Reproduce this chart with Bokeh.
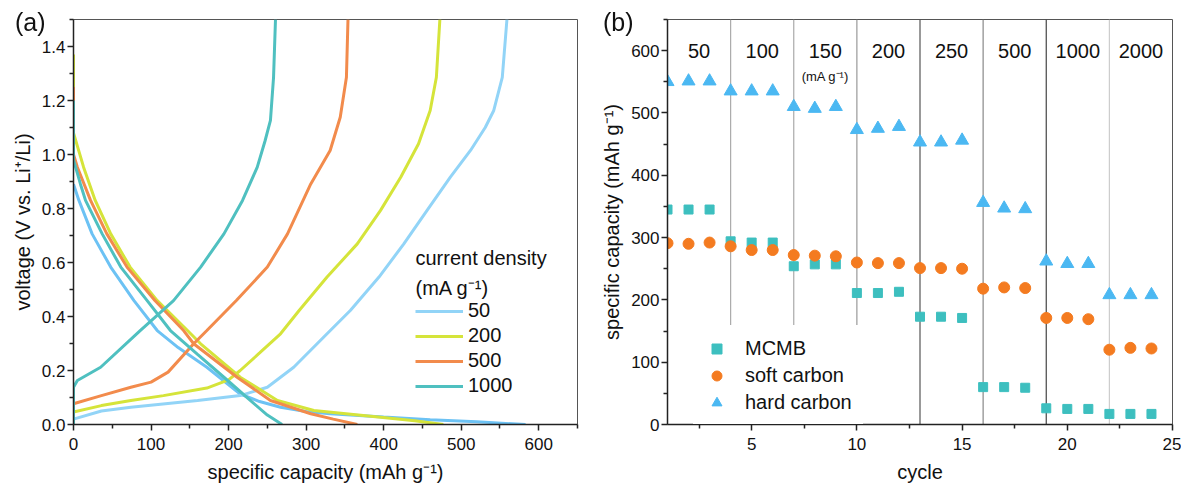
from bokeh.plotting import figure
from bokeh.layouts import row
from bokeh.models import (FixedTicker, PrintfTickFormatter, Legend, LegendItem,
                          Label, Range1d, Span, Div)
from bokeh.core.properties import value
from bokeh.embed import file_html
from bokeh.resources import INLINE

FONT = "Liberation Sans"

# ---------------- panel (a) data: voltage profiles ----------------
densities = ["50", "200", "500", "1000"]
colors_a = ["#92d4f7", "#d5e43a", "#f28b4c", "#4fc0c0"]
colors_a_dis = ["#6cc2f4", "#d5e43a", "#f28b4c", "#4fc0c0"]

dis_cap_50 = [0, 7, 24, 48, 78, 108, 135, 172, 215, 240, 267, 300, 331, 400, 460, 520, 583]
dis_v_50 = [0.89, 0.83, 0.706, 0.583, 0.459, 0.348, 0.285, 0.212, 0.113, 0.085, 0.064, 0.048, 0.04, 0.028, 0.018, 0.01, 0.0]
chg_cap_50 = [0, 0, 36, 74, 160, 215, 250, 284, 327, 357, 394, 426, 456, 486, 512, 531, 542, 553, 559]
chg_v_50 = [0.0, 0.02, 0.05, 0.064, 0.089, 0.107, 0.138, 0.212, 0.336, 0.422, 0.546, 0.669, 0.793, 0.916, 1.015, 1.10, 1.163, 1.286, 1.5]

dis_cap_200 = [0, 0, 13, 28, 48, 73, 108, 147, 164, 215, 263, 310, 396, 440, 477]
dis_v_200 = [1.37, 1.08, 0.953, 0.83, 0.706, 0.583, 0.459, 0.348, 0.299, 0.175, 0.089, 0.052, 0.027, 0.014, 0.0]
chg_cap_200 = [0, 0, 36, 74, 116, 172, 200, 215, 240, 267, 291, 327, 366, 396, 422, 445, 460, 468, 472.5]
chg_v_200 = [0.0, 0.046, 0.07, 0.089, 0.107, 0.135, 0.165, 0.2, 0.265, 0.336, 0.422, 0.546, 0.669, 0.793, 0.916, 1.04, 1.163, 1.286, 1.5]

dis_cap_500 = [0, 0, 5, 22, 43, 69, 105, 142, 155, 211, 254, 306, 335, 366]
dis_v_500 = [1.25, 1.0, 0.953, 0.83, 0.706, 0.583, 0.459, 0.348, 0.299, 0.175, 0.089, 0.04, 0.02, 0.0]
chg_cap_500 = [0, 0, 36, 74, 100, 122, 155, 172, 210, 250, 276, 306, 331, 344, 352, 354]
chg_v_500 = [0.0, 0.077, 0.107, 0.138, 0.157, 0.194, 0.299, 0.348, 0.459, 0.583, 0.706, 0.891, 1.015, 1.138, 1.286, 1.5]

dis_cap_1000 = [0, 0, 9, 15.5, 37, 61, 95, 125, 160, 194, 228, 250, 269]
dis_v_1000 = [1.2, 0.98, 0.89, 0.83, 0.706, 0.583, 0.459, 0.348, 0.26, 0.175, 0.089, 0.035, 0.0]
chg_cap_1000 = [0, 0, 5, 35, 86, 129, 164, 194, 218, 237, 247, 254, 258, 260.5]
chg_v_1000 = [0.0, 0.138, 0.163, 0.212, 0.348, 0.459, 0.583, 0.706, 0.83, 0.953, 1.05, 1.126, 1.286, 1.5]

discharge = [(dis_cap_50, dis_v_50), (dis_cap_200, dis_v_200),
             (dis_cap_500, dis_v_500), (dis_cap_1000, dis_v_1000)]
charge = [(chg_cap_50, chg_v_50), (chg_cap_200, chg_v_200),
          (chg_cap_500, chg_v_500), (chg_cap_1000, chg_v_1000)]

a_xticks = [0, 100, 200, 300, 400, 500, 600]
a_xminor = [50, 150, 250, 350, 450, 550, 650]
a_yticks = [0.0, 0.2, 0.4, 0.6, 0.8, 1.0, 1.2, 1.4]
a_yminor = [0.1, 0.3, 0.5, 0.7, 0.9, 1.1, 1.3, 1.5]

# ---------------- panel (b) data: rate capability ----------------
cycles = list(range(1, 25))
mcmb = [345, 345, 345, 294, 292, 292, 254, 257, 257, 211, 211, 213,
        173, 173, 171, 60, 60, 59, 26, 25, 25, 17, 17, 17]
soft_carbon = [291, 290, 292, 286, 280, 280, 272, 271, 270, 260, 259, 259,
               251, 251, 250, 218, 220, 219, 171, 171, 169, 120, 123, 122]
hard_carbon = [550, 551, 551, 535, 535, 535, 510, 507, 510, 473, 475, 478,
               453, 453, 456, 356, 347, 346, 262, 258, 258, 208, 208, 208]
rate_bounds = [4, 7, 10, 13, 16, 19, 22]
rate_labels = ["50", "100", "150", "200", "250", "500", "1000", "2000"]
b_xticks = [5, 10, 15, 20, 25]
b_xminor = [2.5, 7.5, 12.5, 17.5, 22.5]
b_yticks = [0, 100, 200, 300, 400, 500, 600]
b_yminor = [50, 150, 250, 350, 450, 550, 650]

bound_colors = ["#aaaaaa", "#aaaaaa", "#999999", "#555555", "#888888", "#444444", "#cccccc"]
series_b = [("MCMB", mcmb, "square", "#3dbfbf", 9),
            ("soft carbon", soft_carbon, "circle", "#f47b20", 11),
            ("hard carbon", hard_carbon, "triangle", "#4bb8f2", 13)]


def style_axes(p):
    p.grid.visible = False
    p.outline_line_color = "#555555"
    p.outline_line_width = 1
    for ax in (p.xaxis[0], p.yaxis[0]):
        ax.axis_line_color = "#222222"
        ax.axis_line_width = 1.5
        ax.major_tick_line_color = "#222222"
        ax.minor_tick_line_color = "#222222"
        ax.major_tick_line_width = 1.5
        ax.minor_tick_line_width = 1.5
        ax.major_tick_in = 0
        ax.major_tick_out = 6
        ax.minor_tick_in = 0
        ax.minor_tick_out = 4
        ax.major_label_text_font = FONT
        ax.major_label_text_font_size = "17px"
        ax.major_label_text_color = "#111111"
        ax.axis_label_text_font = FONT
        ax.axis_label_text_font_size = "20px"
        ax.axis_label_text_font_style = "normal"
        ax.axis_label_text_color = "#111111"
    p.xaxis.major_label_standoff = 7
    p.xaxis.axis_label_standoff = 8
    p.yaxis.major_label_standoff = 2
    p.yaxis.axis_label_standoff = 5


# ---------------- figure (a) ----------------
pa = figure(width=592, height=490, x_range=Range1d(0, 650), y_range=Range1d(0, 1.5),
            output_backend="svg", toolbar_location=None,
            min_border_left=73, min_border_right=15, min_border_top=19, min_border_bottom=66)
style_axes(pa)
pa.xaxis.ticker = FixedTicker(ticks=a_xticks, minor_ticks=a_xminor)
pa.yaxis.ticker = FixedTicker(ticks=a_yticks, minor_ticks=a_yminor)
pa.yaxis.formatter = PrintfTickFormatter(format="%.1f")
pa.xaxis.axis_label = "specific capacity (mAh g\u207b\u00b9)"
pa.yaxis.axis_label = "voltage (V vs. Li\u207a/Li)"

items_a = []
for lbl, col, dcol, (dc, dv), (cc, cv) in zip(densities, colors_a, colors_a_dis, discharge, charge):
    pa.line(dc, dv, line_color=dcol, line_width=3)
    r_c = pa.line(cc, cv, line_color=col, line_width=3)
    items_a.append(LegendItem(label=lbl, renderers=[r_c]))

leg_a = Legend(items=items_a, location=(342, 27), orientation="vertical",
               glyph_width=48, glyph_height=20, label_height=20, spacing=2,
               padding=0, margin=0, label_standoff=5,
               label_text_font=FONT, label_text_font_size="20px", label_text_color="#111111",
               background_fill_alpha=0, border_line_alpha=0)
pa.add_layout(leg_a)
pa.add_layout(Label(x=342, y=167, x_units="screen", y_units="screen", text="current density",
                    text_font=FONT, text_font_size="20px", text_baseline="middle", text_color="#111111"))
pa.add_layout(Label(x=342, y=137, x_units="screen", y_units="screen", text="(mA g\u207b\u00b9)",
                    text_font=FONT, text_font_size="20px", text_baseline="middle", text_color="#111111"))

# ---------------- figure (b) ----------------
pb = figure(width=589, height=490, x_range=Range1d(1, 25), y_range=Range1d(0, 650),
            output_backend="svg", toolbar_location=None,
            min_border_left=75, min_border_right=9, min_border_top=19, min_border_bottom=66)
style_axes(pb)
pb.xaxis.ticker = FixedTicker(ticks=b_xticks, minor_ticks=b_xminor)
pb.yaxis.ticker = FixedTicker(ticks=b_yticks, minor_ticks=b_yminor)
pb.xaxis.axis_label = "cycle"
pb.yaxis.axis_label = "specific capacity (mAh g\u207b\u00b9)"

for b, c in zip(rate_bounds, bound_colors):
    pb.add_layout(Span(location=b, dimension="height", line_color=c, line_width=1.2, level="underlay"))

edges = [pb.x_range.start] + rate_bounds + [pb.x_range.end]
centers = [(edges[i] + edges[i + 1]) / 2 for i in range(len(rate_labels))]
LABEL_Y = 600
pb.text(x=centers, y=[LABEL_Y] * len(centers), text=rate_labels,
        text_font=value(FONT), text_font_size="20px", text_align="center",
        text_baseline="middle", text_color="#111111")
pb.text(x=[centers[2]], y=[559], text=["(mA g\u207b\u00b9)"],
        text_font=value(FONT), text_font_size="13px", text_align="center",
        text_baseline="middle", text_color="#111111")

items_b = []
for name, vals, marker, col, size in series_b:
    r = pb.scatter(cycles, vals, marker=marker, size=size, fill_color=col, line_color=col)
    items_b.append(LegendItem(label=name, renderers=[r]))

leg_b = Legend(items=items_b, location=(26, -2), orientation="vertical",
               glyph_width=25, glyph_height=25, label_height=25, spacing=2,
               padding=11, margin=0, label_standoff=16,
               label_text_font=FONT, label_text_font_size="20px", label_text_color="#111111",
               background_fill_color="white", background_fill_alpha=1, border_line_alpha=0)
pb.add_layout(leg_b)


def panel_tag(txt, left):
    return Div(text=f'<span style="font-family:\'{FONT}\';font-size:25px;color:#111111;'
                    f'line-height:29px;white-space:nowrap">{txt}</span>',
               margin=0,
               styles={"position": "fixed", "left": f"{left}px", "top": "8px", "z-index": "10"})


layout = row(pa, pb, panel_tag("(a)", 15), panel_tag("(b)", 603))
open("out.html", "w").write(file_html(layout, INLINE))
